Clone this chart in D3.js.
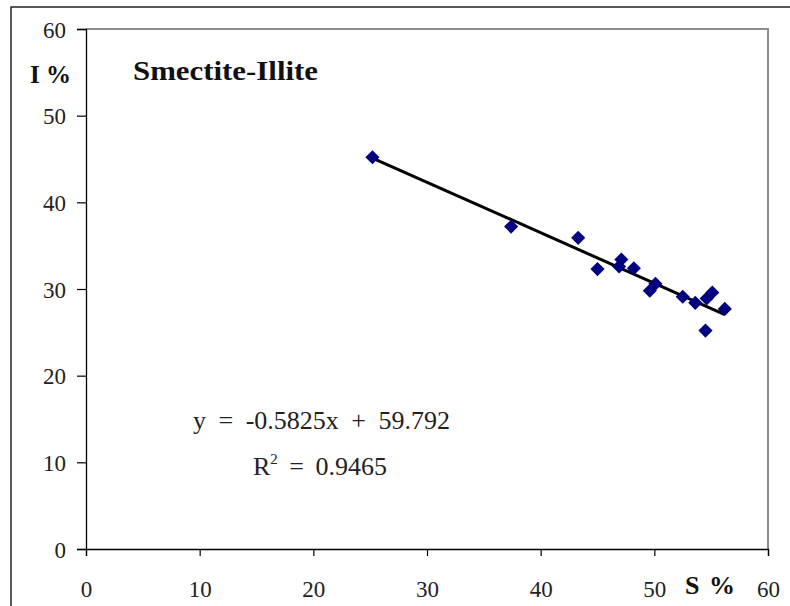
<!DOCTYPE html>
<html>
<head>
<meta charset="utf-8">
<script src="https://cdn.jsdelivr.net/npm/d3@7"></script>
<style>
  body { margin: 0; background: #fff; }
  svg { display: block; }
  text { font-family: "Liberation Serif", "Times New Roman", "DejaVu Serif", serif; }
</style>
</head>
<body>
<svg id="chart" width="790" height="606"></svg>
<script>
// ---- data ----
const sValues = [25.2, 37.4, 43.3, 45.0, 46.9, 47.1, 48.2, 49.6, 50.1, 52.5, 53.6, 54.5, 54.6, 55.1, 56.2];
const iValues = [45.2, 37.2, 35.9, 32.3, 32.6, 33.4, 32.4, 29.8, 30.6, 29.1, 28.4, 25.2, 28.9, 29.6, 27.7];
const xTicks = [0, 10, 20, 30, 40, 50, 60];
const yTicks = [0, 10, 20, 30, 40, 50, 60];
const slope = [-0.5825];
const intercept = [59.792];
const rSquared = ["0.9465"];
const titleText = ["Smectite-Illite"];

const FONT = '"Liberation Serif", "Times New Roman", "DejaVu Serif", serif';
const svg = d3.select("#chart");
const W = 790, H = 606;
const margin = { left: 86, top: 29, right: 22, bottom: 57 };

// outer frame
svg.append("rect").attr("x", 11).attr("y", 7).attr("width", W).attr("height", H)
  .attr("fill", "none").attr("stroke", "#000").attr("stroke-width", 1.3);

const x = d3.scaleLinear().domain([0, 60]).range([margin.left, W - margin.right]);
const y = d3.scaleLinear().domain([0, 60]).range([H - margin.bottom, margin.top]);

// plot border (top/right gray)
svg.append("path")
  .attr("d", `M${x(0)},${y(60)}H${x(60)}V${y(0)}`)
  .attr("fill", "none").attr("stroke", "#8c8c8c").attr("stroke-width", 2);

// axes
const xAxis = svg.append("g").attr("transform", `translate(0,${y(0)})`)
  .call(d3.axisBottom(x).tickValues(xTicks).tickSize(7).tickPadding(25).tickFormat(d3.format("d")));
const yAxis = svg.append("g").attr("transform", `translate(${x(0)},0)`)
  .call(d3.axisLeft(y).tickValues(yTicks).tickSize(9).tickPadding(11).tickFormat(d3.format("d")));
[xAxis, yAxis].forEach(g => {
  g.attr("font-family", FONT).attr("font-size", 23);
  g.select(".domain").attr("stroke", "#000").attr("stroke-width", 1.3);
  g.selectAll(".tick line").attr("stroke", "#000").attr("stroke-width", 1.2);
  g.selectAll("text").attr("font-size", 23).attr("fill", "#222")
    .style("font-family", FONT);
});
yAxis.selectAll("text").attr("dy", "0.35em");

// trendline
const xmin = d3.min(sValues), xmax = d3.max(sValues);
const f = v => slope[0] * v + intercept[0];
svg.append("line")
  .attr("x1", x(xmin)).attr("y1", y(f(xmin)))
  .attr("x2", x(xmax)).attr("y2", y(f(xmax)))
  .attr("stroke", "#000").attr("stroke-width", 3);

// points
const pts = sValues.map((s, i) => ({ s, v: iValues[i] }));
const sym = d3.symbol().type(d3.symbolSquare).size(100);
svg.append("g").selectAll("path").data(pts).join("path")
  .attr("d", sym)
  .attr("transform", d => `translate(${x(d.s)},${y(d.v)}) rotate(45)`)
  .attr("fill", "#000080");

// labels
svg.append("text").attr("x", 133).attr("y", 80).attr("font-size", 27).attr("font-weight", "bold")
  .attr("textLength", 185).attr("lengthAdjust", "spacingAndGlyphs")
  .attr("fill", "#111").text(titleText[0]);
svg.append("text").attr("x", 30).attr("y", 83).attr("font-size", 25).attr("font-weight", "bold")
  .attr("fill", "#111").text("I %");
svg.append("text").attr("x", 685).attr("y", 594).attr("font-size", 26).attr("font-weight", "bold")
  .attr("fill", "#111").attr("word-spacing", 3).text("S %");

// equation
svg.append("text").attr("x", 193).attr("y", 429).attr("font-size", 26).attr("fill", "#222")
  .attr("word-spacing", 6)
  .text(`y = ${slope[0]}x + ${intercept[0]}`);
const r2 = svg.append("text").attr("x", 253).attr("y", 475).attr("font-size", 26).attr("fill", "#222")
  .attr("word-spacing", 5);
r2.append("tspan").text("R");
r2.append("tspan").attr("font-size", 15).attr("dy", -11).text("2");
r2.append("tspan").attr("dy", 11).text(" = " + rSquared[0]);
</script>
</body>
</html>
